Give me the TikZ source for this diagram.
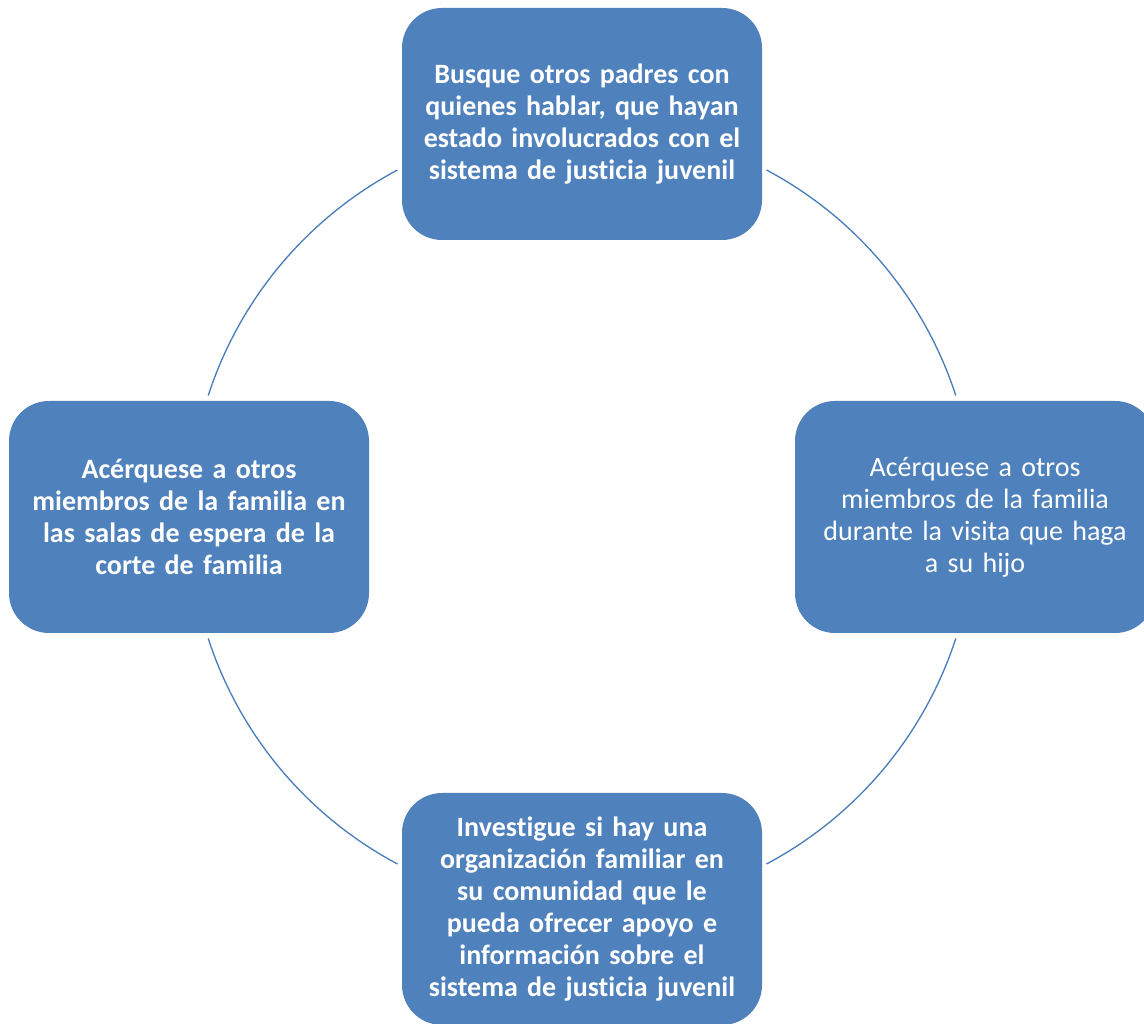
\documentclass[tikz,border=0pt]{standalone}
\usepackage{fontspec}
\setmainfont{Carlito}[Ligatures=NoCommon]
\usetikzlibrary{positioning}
\definecolor{boxblue}{HTML}{4F81BD}
\definecolor{ringblue}{HTML}{4A7EBB}

\tikzset{
  stepbox/.style={rectangle, rounded corners=30pt, fill=boxblue, text=white,
    minimum width=270pt, minimum height=174pt, text width=258pt, align=center,
    inner sep=0pt, font=\fontsize{21}{24}\selectfont},
  ring/.style={draw=ringblue, line width=1pt}
}

\begin{document}
\begin{tikzpicture}[x=0.75pt,y=0.75pt]
  \useasboundingbox (0,0) rectangle (1144,1023);

  \coordinate (c) at (582,506); % centre of the ring

  % the four boxes round the ring
  \node[stepbox] (top)    at (582,899) {\bfseries Busque otros padres con\\ quienes hablar, que hayan\\ estado involucrados con el\\ sistema de justicia juvenil};
  \node[stepbox] (right)  at (975,506) {Acérquese a otros\\ miembros de la familia\\ durante la visita que haga\\ a su hijo};
  \node[stepbox] (bottom) at (582,114) {\bfseries Investigue si hay una\\ organización familiar en\\ su comunidad que le\\ pueda ofrecer apoyo e\\ información sobre el\\ sistema de justicia juvenil};
  \node[stepbox] (left)   at (189,506) {\bfseries Acérquese a otros\\ miembros de la familia en\\ las salas de espera de la\\ corte de familia};

  % arcs of the ring between the boxes
  \foreach \a in {18,118,198,298}
    \draw[ring] (c) ++(\a:393) arc[start angle=\a, end angle=\a+44, radius=393];
\end{tikzpicture}
\end{document}
